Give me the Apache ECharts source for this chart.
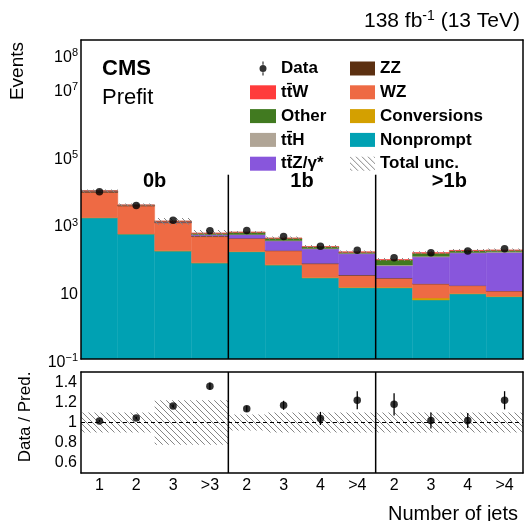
<!DOCTYPE html>
<html>
<head>
<meta charset="utf-8">
<script src="https://cdn.jsdelivr.net/npm/echarts@6/dist/echarts.min.js"></script>
<style>html,body{margin:0;padding:0;background:#fff}#c{width:525px;height:521px}</style>
</head>
<body>
<div id="c"></div>
<script>
// ---------------- data ----------------
const categories = ['1', '2', '3', '>3', '2', '3', '4', '>4', '2', '3', '4', '>4'];
const groups = ['0b', '1b', '>1b'];
const nonprompt   = [1470, 486, 153, 68, 146, 59, 24.5, 12.7, 12.5, 5.5, 8.3, 6.9];
const conversions = [15, 6, 3, 1.5, 3, 1.5, 1, 0.5, 0.5, 0.8, 0.3, 0.2];
const wz          = [6750, 2760, 890, 340, 210, 95, 39, 16, 11, 10, 6, 3];
const zz          = [800, 150, 50, 20, 10, 5, 2, 1, 0.5, 0.3, 0.2, 0.1];
const ttz         = [20, 30, 25, 35, 95, 142, 110, 97, 32, 85, 119, 130];
const tth         = [2, 5, 5, 5, 12, 10, 6, 4, 3, 6, 6, 5];
const other       = [100, 60, 45, 45, 75, 55, 22, 11, 24, 25, 17, 17];
const ttw         = [5, 10, 8, 8, 6, 5, 5, 3, 3, 6, 4, 3];
const observed    = [8700, 3420, 1236, 610, 625, 416, 211, 161, 97, 137, 153, 179];
const ratio       = [1.016, 1.045, 1.163, 1.36, 1.137, 1.17, 1.04, 1.22, 1.18, 1.02, 1.02, 1.22];
const ratioErr    = [0.01, 0.012, 0.015, 0.035, 0.03, 0.045, 0.065, 0.09, 0.11, 0.08, 0.075, 0.09];
const totalUnc    = [0.10, 0.10, 0.22, 0.22, 0.08, 0.10, 0.10, 0.10, 0.10, 0.10, 0.10, 0.10];
const separatorsAfter = [3, 7];
const yLabelExponents = [-1, 1, 3, 5, 7, 8];

// ---------------- axis constants ----------------
const Y_MIN = 0.1, Y_MAX = 2.6e8;
const R_MIN = 0.5, R_MAX = 1.5;
const SEP_TOP = 2.75e4;
const GROUP_LABEL_Y = 1.7e4;
const FONT = '"Liberation Sans", Arial, Helvetica, sans-serif';

const processNames = ['Nonprompt', 'Conversions', 'WZ', 'ZZ', 'tt\u0304Z/\u03b3*', 'tt\u0304H', 'Other', 'tt\u0304W'];
const processValues = [nonprompt, conversions, wz, zz, ttz, tth, other, ttw];
const processColors = ['#00a1b3', '#d4a000', '#ee6a44', '#5c3011', '#8856dc', '#b0a596', '#417a20', '#ff3b3b'];

function makeHatch() {
  const c = document.createElement('canvas');
  c.width = 6; c.height = 6;
  const ctx = c.getContext('2d');
  ctx.strokeStyle = '#858585';
  ctx.lineWidth = 1;
  ctx.beginPath();
  ctx.moveTo(0, 0); ctx.lineTo(6, 6);
  ctx.moveTo(-3, 3); ctx.lineTo(3, 9);
  ctx.moveTo(3, -3); ctx.lineTo(9, 3);
  ctx.stroke();
  return c;
}
const hatch = { image: makeHatch(), repeat: 'repeat' };

function rectRender(params, api) {
  const i = api.value(0), lo = api.value(1), hi = api.value(2);
  const p0 = api.coord([i, lo]);
  const p1 = api.coord([i, hi]);
  const w = api.size([1, 0])[0];
  const fill = api.visual('color');
  return {
    type: 'rect',
    shape: { x: p0[0] - w / 2, y: p1[1], width: w, height: p0[1] - p1[1] },
    style: { fill: fill, stroke: fill, lineWidth: 0.4 }
  };
}
function hatchRender(params, api) {
  const i = api.value(0), lo = api.value(1), hi = api.value(2);
  const p0 = api.coord([i, lo]);
  const p1 = api.coord([i, hi]);
  const w = api.size([1, 0])[0];
  return {
    type: 'rect',
    shape: { x: p0[0] - w / 2, y: p1[1], width: w, height: p0[1] - p1[1] },
    style: { fill: hatch }
  };
}
function sepRender(params, api) {
  const b = api.value(0), lo = api.value(1), hi = api.value(2);
  const w = api.size([1, 0])[0];
  const p0 = api.coord([b, lo]);
  const p1 = api.coord([b, hi]);
  const x = p0[0] + w / 2;
  return { type: 'line', shape: { x1: x, y1: p0[1], x2: x, y2: p1[1] }, style: { stroke: '#000', lineWidth: 1.5 } };
}
function errRender(params, api) {
  const i = api.value(0), lo = api.value(1), hi = api.value(2);
  const p0 = api.coord([i, lo]);
  const p1 = api.coord([i, hi]);
  return { type: 'line', shape: { x1: p0[0], y1: p0[1], x2: p1[0], y2: p1[1] }, style: { stroke: '#000', lineWidth: 1.3 } };
}
function groupRender(params, api) {
  const a = api.value(0), b = api.value(1), y = api.value(2);
  const pa = api.coord([a, y]);
  const pb = api.coord([b, y]);
  return {
    type: 'text',
    x: (pa[0] + pb[0]) / 2, y: pa[1],
    style: { text: groups[params.dataIndex], font: 'bold 20px ' + FONT, fill: '#000',
             align: 'center', verticalAlign: 'middle', textAlign: 'center', textVerticalAlign: 'middle' }
  };
}

// stacks
let cum = categories.map(() => 0);
const stackSeries = processValues.map((vals, k) => {
  const items = vals.map((v, i) => [i, cum[i] === 0 ? Y_MIN : cum[i], cum[i] + v]);
  cum = cum.map((c, i) => c + vals[i]);
  return {
    name: processNames[k], type: 'custom', xAxisIndex: 0, yAxisIndex: 0,
    renderItem: rectRender, encode: { x: 0, y: [1, 2] }, data: items, clip: true, z: 2,
    itemStyle: { color: processColors[k] }
  };
});
const total = cum;

const supStyle = { fontSize: 11, fontFamily: FONT, verticalAlign: 'top', lineHeight: 10, color: '#000' };
const baseStyle = { fontSize: 16, fontFamily: FONT, lineHeight: 20, color: '#000' };

function logLabel(v) {
  const e = Math.log10(v);
  const r = Math.round(e);
  if (Math.abs(e - r) > 1e-6 || yLabelExponents.indexOf(r) < 0) return '';
  if (r === 1) return '{b|10}';
  return '{b|10}{s|' + (r < 0 ? '\u2212' + (-r) : r) + '}';
}
function ratioLabel(v) {
  const k = Math.round(v * 10);
  if (k % 2 !== 0 || k < 6 || k > 14) return '';
  return k === 10 ? '1' : String(k / 10);
}

const axisLine = { show: true, lineStyle: { color: '#000', width: 1.5 } };
const dataIcon = 'path://M12.4,0 L13.6,0 L13.6,3.2 L12.4,3.2 Z M12.4,10.8 L13.6,10.8 L13.6,14 L12.4,14 Z M9.5,7 A3.5,3.5 0 1,0 16.5,7 A3.5,3.5 0 1,0 9.5,7 Z';
const legendText = { fontFamily: FONT, fontWeight: 'bold', fontSize: 17, color: '#000', lineHeight: 14 };

const option = {
  animation: false,
  backgroundColor: '#fff',
  grid: [
    { left: 81, top: 40, width: 442, height: 319, show: false },
    { left: 81, top: 372, width: 442, height: 101, show: false }
  ],
  xAxis: [
    { type: 'category', gridIndex: 0, data: categories, position: 'bottom', z: 10, axisLine,
      axisTick: { inside: true, length: 8, interval: 0, lineStyle: { color: '#000', width: 1 } },
      axisLabel: { show: false }, splitLine: { show: false } },
    { type: 'category', gridIndex: 0, data: categories, position: 'top', z: 10, axisLine,
      axisTick: { inside: true, length: 8, interval: 0, lineStyle: { color: '#000', width: 1 } },
      axisLabel: { show: false }, splitLine: { show: false } },
    { type: 'category', gridIndex: 1, data: categories, position: 'bottom', z: 10, axisLine,
      axisTick: { inside: true, length: 5, interval: 0, lineStyle: { color: '#000', width: 1 } },
      axisLabel: { show: true, interval: 0, margin: 5, fontSize: 16, fontFamily: FONT, color: '#000' },
      splitLine: { show: false } },
    { type: 'category', gridIndex: 1, data: categories, position: 'top', z: 10, axisLine,
      axisTick: { inside: true, length: 5, interval: 0, lineStyle: { color: '#000', width: 1 } },
      axisLabel: { show: false }, splitLine: { show: false } }
  ],
  yAxis: [
    { type: 'log', logBase: 10, gridIndex: 0, min: Y_MIN, max: Y_MAX, position: 'left', z: 10, axisLine,
      axisTick: { inside: true, length: 14, lineStyle: { color: '#000', width: 1 } },
      axisLabel: { margin: 3, padding: [7, 0, 0, 0], formatter: logLabel, rich: { b: baseStyle, s: supStyle } },
      splitLine: { show: false }, minorTick: { show: false } },
    { type: 'log', logBase: 10, gridIndex: 0, min: Y_MIN, max: Y_MAX, position: 'right', z: 10, axisLine,
      axisTick: { inside: true, length: 14, lineStyle: { color: '#000', width: 1 } },
      axisLabel: { show: false }, splitLine: { show: false } },
    { type: 'value', gridIndex: 1, min: R_MIN, max: R_MAX, position: 'left', z: 10, axisLine,
      axisTick: { inside: true, length: 10, lineStyle: { color: '#000', width: 1 } },
      axisLabel: { margin: 4, formatter: ratioLabel, fontSize: 16, fontFamily: FONT, color: '#000' },
      splitLine: { show: false } },
    { type: 'value', gridIndex: 1, min: R_MIN, max: R_MAX, position: 'right', z: 10, axisLine,
      axisTick: { inside: true, length: 10, lineStyle: { color: '#000', width: 1 } },
      axisLabel: { show: false }, splitLine: { show: false } },
    { type: 'value', gridIndex: 1, min: R_MIN, max: R_MAX, position: 'left', z: 10, axisLine: { show: false },
      axisTick: { inside: true, length: 5, customValues: [0.7, 0.9, 1.1, 1.3], lineStyle: { color: '#000', width: 1 } },
      axisLabel: { show: false }, splitLine: { show: false } },
    { type: 'value', gridIndex: 1, min: R_MIN, max: R_MAX, position: 'right', z: 10, axisLine: { show: false },
      axisTick: { inside: true, length: 5, customValues: [0.7, 0.9, 1.1, 1.3], lineStyle: { color: '#000', width: 1 } },
      axisLabel: { show: false }, splitLine: { show: false } }
  ],
  legend: [
    { left: 250, top: 60, orient: 'vertical', itemWidth: 26, itemHeight: 14, itemGap: 6.8, icon: 'rect',
      selectedMode: false, textStyle: legendText, padding: 0,
      data: [{ name: 'Data', icon: dataIcon }, 'tt\u0304W', 'Other', 'tt\u0304H', 'tt\u0304Z/\u03b3*'] },
    { left: 350, top: 60, orient: 'vertical', itemWidth: 25, itemHeight: 14, itemGap: 6.8, icon: 'rect',
      selectedMode: false, textStyle: legendText, padding: 0,
      data: ['ZZ', 'WZ', 'Conversions', 'Nonprompt', 'Total unc.'] }
  ],
  graphic: [
    { type: 'text', x: 520, y: 21,
      style: { text: '{a|138 fb}{s|-1}{a| (13 TeV)}', align: 'right', verticalAlign: 'middle', textAlign: 'right', textVerticalAlign: 'middle',
        rich: { a: { fontSize: 21, fontFamily: FONT, lineHeight: 24, color: '#000' },
                s: { fontSize: 14, fontFamily: FONT, lineHeight: 12, verticalAlign: 'top', color: '#000' } } } },
    { type: 'text', x: 102, y: 69,
      style: { text: 'CMS', font: 'bold 22px ' + FONT, fill: '#000', align: 'left', verticalAlign: 'middle', textAlign: 'left', textVerticalAlign: 'middle' } },
    { type: 'text', x: 102, y: 98,
      style: { text: 'Prefit', font: '22px ' + FONT, fill: '#000', align: 'left', verticalAlign: 'middle', textAlign: 'left', textVerticalAlign: 'middle' } },
    { type: 'text', x: 18, y: 42, rotation: Math.PI / 2,
      style: { text: 'Events', font: '19px ' + FONT, fill: '#000', align: 'right', verticalAlign: 'middle', textAlign: 'right', textVerticalAlign: 'middle' } },
    { type: 'text', x: 25, y: 417, rotation: Math.PI / 2,
      style: { text: 'Data / Pred.', font: '17px ' + FONT, fill: '#000', align: 'center', verticalAlign: 'middle', textAlign: 'center', textVerticalAlign: 'middle' } },
    { type: 'text', x: 518, y: 514,
      style: { text: 'Number of jets', font: '20px ' + FONT, fill: '#000', align: 'right', verticalAlign: 'middle', textAlign: 'right', textVerticalAlign: 'middle' } }
  ],
  series: [
    ...stackSeries,
    { name: 'Total unc.', type: 'custom', xAxisIndex: 0, yAxisIndex: 0, renderItem: hatchRender,
      encode: { x: 0, y: [1, 2] }, z: 3, clip: true, itemStyle: { color: hatch },
      data: total.map((t, i) => [i, t * (1 - totalUnc[i]), t * (1 + totalUnc[i])]) },
    { name: 'sepMain', type: 'custom', xAxisIndex: 0, yAxisIndex: 0, renderItem: sepRender,
      encode: { x: 0, y: [1, 2] }, z: 4, data: separatorsAfter.map(b => [b, Y_MIN, SEP_TOP]) },
    { name: 'groups', type: 'custom', xAxisIndex: 0, yAxisIndex: 0, renderItem: groupRender,
      encode: { x: [0, 1], y: 2 }, z: 6, data: groups.map((g, k) => [k * 4, k * 4 + 3, GROUP_LABEL_Y]) },
    { name: 'Data', type: 'scatter', xAxisIndex: 0, yAxisIndex: 0, symbol: 'circle', symbolSize: 7.5, z: 6,
      itemStyle: { color: '#000' }, data: observed.map((v, i) => [i, v]) },
    { name: 'Total unc.', type: 'custom', xAxisIndex: 2, yAxisIndex: 2, renderItem: hatchRender,
      encode: { x: 0, y: [1, 2] }, z: 3, clip: true, itemStyle: { color: hatch },
      data: totalUnc.map((u, i) => [i, 1 - u, 1 + u]) },
    { name: 'sepRatio', type: 'custom', xAxisIndex: 2, yAxisIndex: 2, renderItem: sepRender,
      encode: { x: 0, y: [1, 2] }, z: 4, data: separatorsAfter.map(b => [b, R_MIN, R_MAX]) },
    { name: 'ratioErr', type: 'custom', xAxisIndex: 2, yAxisIndex: 2, renderItem: errRender,
      encode: { x: 0, y: [1, 2] }, z: 5, data: ratio.map((r, i) => [i, r - ratioErr[i], r + ratioErr[i]]) },
    { name: 'Ratio', type: 'scatter', xAxisIndex: 2, yAxisIndex: 2, symbol: 'circle', symbolSize: 7.5, z: 6,
      itemStyle: { color: '#000' }, data: ratio.map((r, i) => [i, r]),
      markLine: { silent: true, symbol: ['none', 'none'], label: { show: false },
        lineStyle: { color: '#000', type: [4, 3], width: 1 }, data: [{ yAxis: 1 }] } }
  ]
};

const chart = echarts.init(document.getElementById('c'), null, { renderer: 'canvas', width: 525, height: 521 });
chart.setOption(option);
</script>
</body>
</html>
